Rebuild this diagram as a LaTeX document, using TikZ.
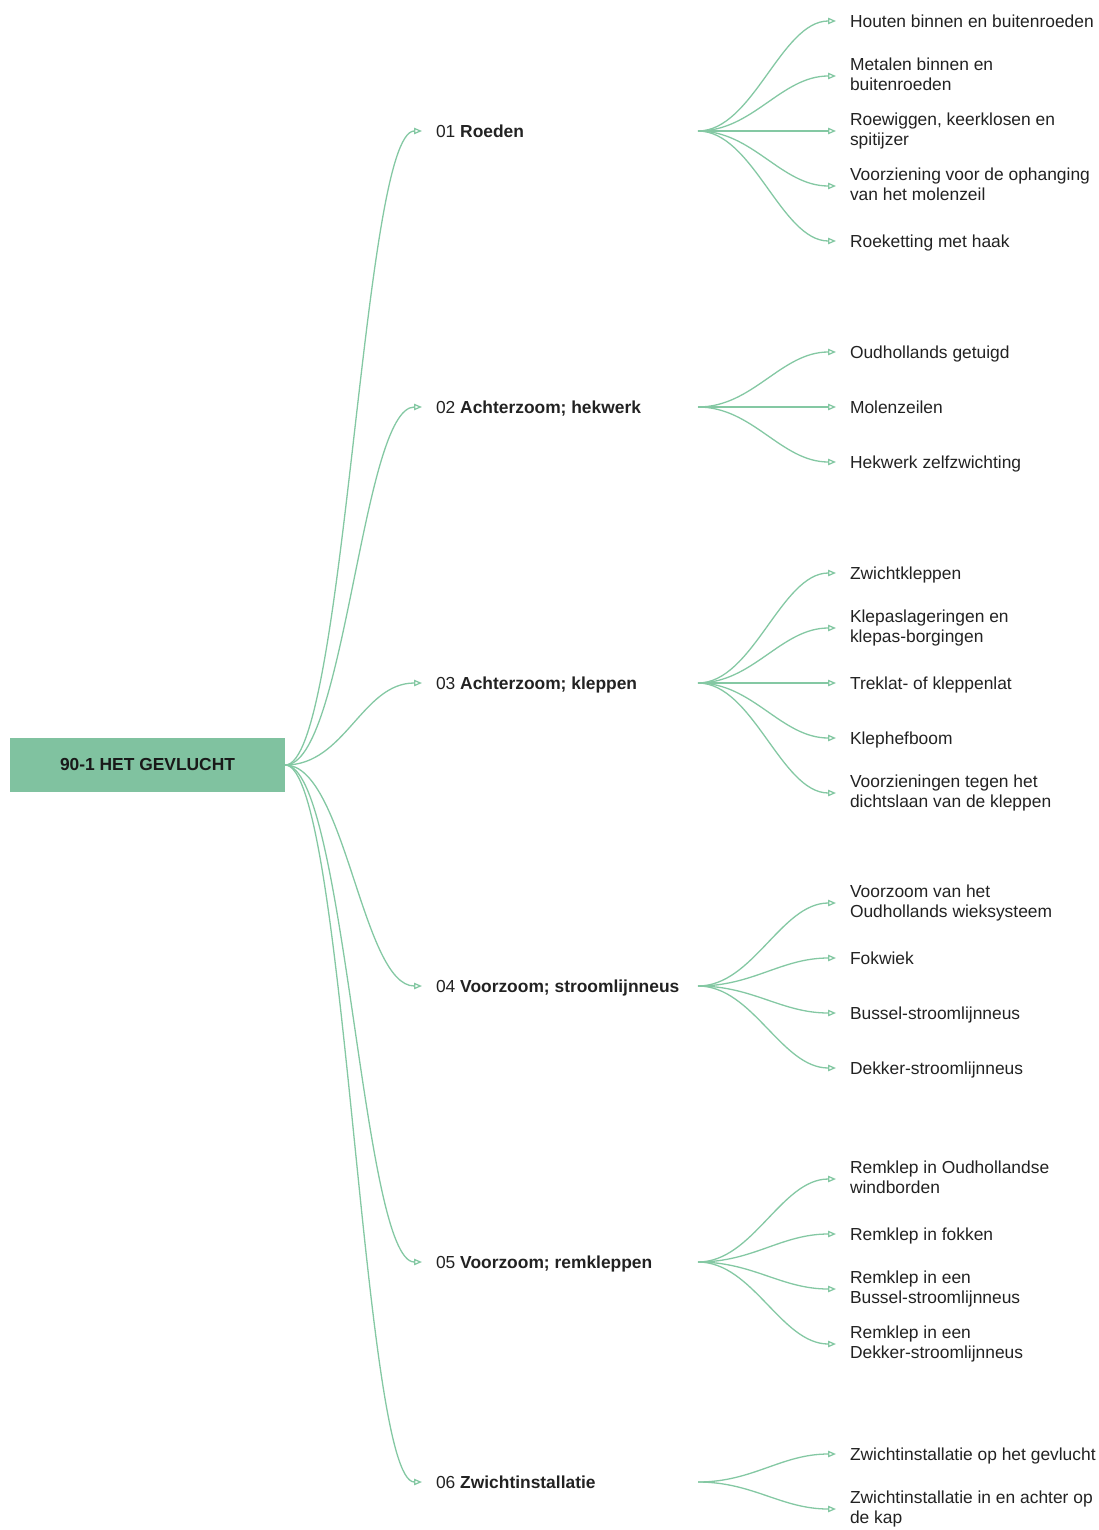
\documentclass[tikz,border=0pt]{standalone}
\usepackage{fontspec}
\setmainfont{Liberation Sans}
\usetikzlibrary{arrows.meta,calc}
\definecolor{mgreen}{HTML}{80C2A0}
\definecolor{lgreen}{HTML}{84C8A3}
\definecolor{txt}{HTML}{222222}
\newcommand\mmcurve[3]{\draw[link] (#1) .. controls ($(#1)+(#3,0)$) and ($(#2)+(-#3,0)$) .. (#2);}
\newcommand\mmtop{\rule{0pt}{17.8pt}}
\newcommand\mmbot{\rule[-3.4pt]{0pt}{3.4pt}}
\begin{document}
\begin{tikzpicture}[x=1pt,y=-1pt,
  every node/.style={font=\fontsize{17.4}{20}\selectfont, text=txt},
  rootbox/.style={fill=mgreen, draw=none, minimum width=275pt, minimum height=54pt, inner sep=0pt,
    font=\fontsize{17.4}{20}\selectfont\bfseries, text=black!90},
  topic/.style={anchor=west, inner sep=0pt, outer xsep=14pt, text height=16pt, text depth=3.4pt},
  leaf/.style={anchor=west, inner sep=0pt, outer xsep=14pt, text height=16.6pt, text depth=3.4pt},
  leafm/.style={anchor=west, inner sep=0pt, outer xsep=14pt, align=left,
    execute at begin node=\mmtop, execute at end node=\mmbot},
  link/.style={draw=lgreen, line width=1.3pt, -{Triangle[open,length=8pt,width=6.5pt]}},
]
\useasboundingbox (0,0) rectangle (1099,1530);

\node[rootbox] (root) at (147.5,765) {90-1 HET GEVLUCHT};

% level 1
\node[topic] (t1) at (422,131) {01 \textbf{Roeden}};
\node[topic] (t2) at (422,407) {02 \textbf{Achterzoom; hekwerk}};
\node[topic] (t3) at (422,683) {03 \textbf{Achterzoom; kleppen}};
\node[topic] (t4) at (422,986) {04 \textbf{Voorzoom; stroomlijnneus}};
\node[topic] (t5) at (422,1262) {05 \textbf{Voorzoom; remkleppen}};
\node[topic] (t6) at (422,1482) {06 \textbf{Zwichtinstallatie}};

\coordinate (o1) at (698,131);
\coordinate (o2) at (698,407);
\coordinate (o3) at (698,683);
\coordinate (o4) at (698,986);
\coordinate (o5) at (698,1262);
\coordinate (o6) at (698,1482);

\foreach \i in {1,...,6} {\mmcurve{root.east}{t\i.west}{60}}

% level 2: 01
\node[leaf] (a1) at (836,21) {Houten binnen en buitenroeden};
\node[leafm] (a2) at (836,76) {Metalen binnen en\\buitenroeden};
\node[leafm] (a3) at (836,131) {Roewiggen, keerklosen en\\spitijzer};
\node[leafm] (a4) at (836,186) {Voorziening voor de ophanging\\van het molenzeil};
\node[leaf] (a5) at (836,241) {Roeketting met haak};
\foreach \i in {1,...,5} {\mmcurve{o1}{a\i.west}{55}}

% 02
\node[leaf] (b1) at (836,352) {Oudhollands getuigd};
\node[leaf] (b2) at (836,407) {Molenzeilen};
\node[leaf] (b3) at (836,462) {Hekwerk zelfzwichting};
\foreach \i in {1,...,3} {\mmcurve{o2}{b\i.west}{55}}

% 03
\node[leaf] (c1) at (836,573) {Zwichtkleppen};
\node[leafm] (c2) at (836,628) {Klepaslageringen en\\klepas-borgingen};
\node[leaf] (c3) at (836,683) {Treklat- of kleppenlat};
\node[leaf] (c4) at (836,738) {Klephefboom};
\node[leafm] (c5) at (836,793) {Voorzieningen tegen het\\dichtslaan van de kleppen};
\foreach \i in {1,...,5} {\mmcurve{o3}{c\i.west}{55}}

% 04
\node[leafm] (d1) at (836,903) {Voorzoom van het\\Oudhollands wieksysteem};
\node[leaf] (d2) at (836,958) {Fokwiek};
\node[leaf] (d3) at (836,1013) {Bussel-stroomlijnneus};
\node[leaf] (d4) at (836,1068) {Dekker-stroomlijnneus};
\foreach \i in {1,...,4} {\mmcurve{o4}{d\i.west}{55}}

% 05
\node[leafm] (e1) at (836,1179) {Remklep in Oudhollandse\\windborden};
\node[leaf] (e2) at (836,1234) {Remklep in fokken};
\node[leafm] (e3) at (836,1289) {Remklep in een\\Bussel-stroomlijnneus};
\node[leafm] (e4) at (836,1344) {Remklep in een\\Dekker-stroomlijnneus};
\foreach \i in {1,...,4} {\mmcurve{o5}{e\i.west}{55}}

% 06
\node[leaf] (f1) at (836,1454) {Zwichtinstallatie op het gevlucht};
\node[leafm] (f2) at (836,1509) {Zwichtinstallatie in en achter op\\de kap};
\foreach \i in {1,2} {\mmcurve{o6}{f\i.west}{55}}
\end{tikzpicture}
\end{document}
